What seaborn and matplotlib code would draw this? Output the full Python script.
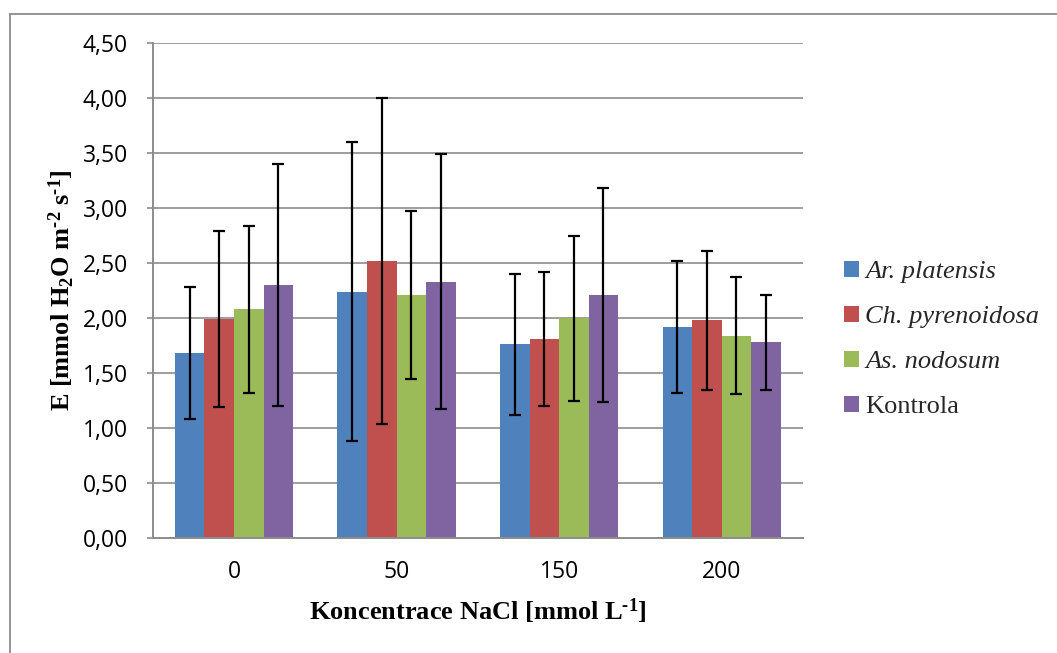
import numpy as np
import pandas as pd
import seaborn as sns
import matplotlib
matplotlib.use("Agg")
import matplotlib.pyplot as plt
from matplotlib.patches import Rectangle
from matplotlib.ticker import FuncFormatter, MultipleLocator

# NaCl concentrations (mmol/L) and treatment variants
concentrations = ["0", "50", "150", "200"]
variants = ["Ar. platensis", "Ch. pyrenoidosa", "As. nodosum", "Kontrola"]

# Mean transpiration rate E per variant, one value per concentration
ar_platensis = [1.68, 2.24, 1.76, 1.92]
ch_pyrenoidosa = [1.99, 2.52, 1.81, 1.98]
as_nodosum = [2.08, 2.21, 2.00, 1.84]
kontrola = [2.30, 2.33, 2.21, 1.78]

# Standard deviations (symmetric error bars)
sd_ar_platensis = [0.60, 1.36, 0.64, 0.60]
sd_ch_pyrenoidosa = [0.80, 1.48, 0.61, 0.63]
sd_as_nodosum = [0.76, 0.76, 0.75, 0.53]
sd_kontrola = [1.10, 1.16, 0.97, 0.43]

colors = ["#4F81BD", "#C0504D", "#9BBB59", "#8064A2"]

means = [ar_platensis, ch_pyrenoidosa, as_nodosum, kontrola]
sds = [sd_ar_platensis, sd_ch_pyrenoidosa, sd_as_nodosum, sd_kontrola]

df = pd.DataFrame({
    "NaCl": np.tile(concentrations, len(variants)),
    "Variant": np.repeat(variants, len(concentrations)),
    "E": np.concatenate(means),
    "SD": np.concatenate(sds),
})

sns.set_theme(style="white")
plt.rcParams["font.family"] = ["Open Sans", "DejaVu Sans"]
plt.rcParams["mathtext.default"] = "regular"

fig = plt.figure(figsize=(10.57, 6.53), dpi=100)
W, H = 1057, 653
ax = fig.add_axes([152.7 / W, 1 - 538 / H, (803 - 152.7) / W, (538 - 43) / H])

sns.barplot(data=df, x="NaCl", y="E", hue="Variant", order=concentrations,
            hue_order=variants, palette=colors, width=4 / 5.5, saturation=1,
            errorbar=None, linewidth=0, ax=ax, legend=False, zorder=2)

# Error bars centred on each bar
for cont, sd_vals, val in zip(ax.containers, sds, means):
    xs = [b.get_x() + b.get_width() / 2 for b in cont]
    ax.errorbar(xs, val, yerr=sd_vals, fmt="none", ecolor="black",
                elinewidth=1.6, capsize=4.3, capthick=1.6, zorder=4)

grid_c = "#8C8C8C"
ax.set_ylim(0, 4.5)
ax.set_xlim(-0.5, 3.5)
ax.yaxis.set_major_locator(MultipleLocator(0.5))
ax.yaxis.set_major_formatter(FuncFormatter(lambda v, p: f"{v:.2f}".replace(".", ",")))
ax.grid(axis="y", color=grid_c, linewidth=1.2, zorder=0)
ax.set_axisbelow(True)
for side in ["top", "right"]:
    ax.spines[side].set_visible(False)
for side in ["left", "bottom"]:
    ax.spines[side].set_color(grid_c)
    ax.spines[side].set_linewidth(1.4)

ax.tick_params(axis="y", which="major", left=True, length=4.5, width=1.2,
               color=grid_c, pad=13.5, labelsize=16.5, labelcolor="black")
ax.tick_params(axis="x", which="major", bottom=False, length=0, pad=16,
               labelsize=16.5, labelcolor="black")

serif = ["Liberation Serif", "DejaVu Serif"]
hy = "\u2010"
ax.set_xlabel("Koncentrace NaCl [mmol L$^{" + hy + "1}$]", family=serif,
              fontweight="bold", fontsize=19, color="black")
ax.xaxis.set_label_coords(0.5, -0.118)
ax.xaxis.label.set_va("top")
ax.set_ylabel("E [mmol H$_2$O m$^{" + hy + "2}$ s$^{" + hy + "1}$]", family=serif,
              fontweight="bold", fontsize=19, color="black")
ax.yaxis.set_label_coords(-0.116, 0.5)

# Legend with square colour keys
handles = [Rectangle((0, 0), 1, 1, facecolor=c, edgecolor="none") for c in colors]
leg = fig.legend(handles, variants, loc="upper left",
                 bbox_to_anchor=(844 / W, 1 - 261 / H), frameon=False,
                 prop={"family": serif, "size": 19}, handlelength=0.55,
                 handleheight=0.55, handletextpad=0.25, labelspacing=0.86,
                 borderaxespad=0, borderpad=0)
for t in leg.get_texts()[:3]:
    t.set_fontstyle("italic")

# Chart frame
fig.patches.append(Rectangle((9.5 / W, -0.1), 1.2, 1 - 13.5 / H + 0.1,
                             transform=fig.transFigure, fill=False,
                             edgecolor="#8C8C8C", linewidth=1.3))

fig.savefig("out.png", dpi=100, facecolor="white")
